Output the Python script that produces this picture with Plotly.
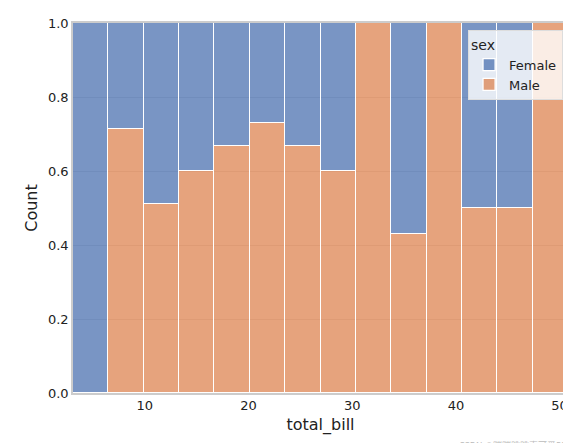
import numpy as np
import plotly.graph_objects as go

# tips total_bill, 14 bins, normalised by sex (multiple="fill")
bill_min = 3.07
bill_max = 50.81
n_bins = 14
male_share = [0.0, 0.714, 0.51, 0.60, 0.667, 0.73, 0.667, 0.60, 1.0, 0.43, 1.0, 0.5, 0.5, 1.0]
female_share = [1 - m for m in male_share]

edges = np.linspace(bill_min, bill_max, n_bins + 1)
centers = (edges[:-1] + edges[1:]) / 2
width = edges[1] - edges[0]

fig = go.Figure()
fig.add_bar(x=centers, y=male_share, width=width, name="Male",
            marker=dict(color="rgba(221,132,82,0.75)", line=dict(color="white", width=1.2)))
fig.add_bar(x=centers, y=female_share, width=width, name="Female",
            marker=dict(color="rgba(76,114,176,0.75)", line=dict(color="white", width=1.2)))

axis_font = dict(family="DejaVu Sans", size=13, color="#222")
fig.update_layout(
    barmode="stack", bargap=0,
    width=571, height=443,
    margin=dict(l=65, r=11, t=15, b=58, autoexpand=False),
    paper_bgcolor="white", plot_bgcolor="white",
    font=axis_font,
    showlegend=True,
    legend=dict(title=dict(text="sex", font=dict(size=14)), traceorder="reversed",
                x=0.99, y=0.98, xanchor="right", yanchor="top",
                bgcolor="rgba(255,255,255,0.8)", bordercolor="#ddd", borderwidth=1,
                font=dict(size=13)),
    xaxis=dict(title=dict(text="total_bill", standoff=6), range=[bill_min, bill_max],
               tickvals=[10, 20, 30, 40, 50], showgrid=False, zeroline=False, automargin=False,
               showline=True, mirror=True, linecolor="#ccc", linewidth=1.5, ticks=""),
    yaxis=dict(title=dict(text="Count", standoff=6), range=[0, 1], dtick=0.2, tickformat=".1f",
               showgrid=True, gridcolor="#ddd", zeroline=False, automargin=False,
               showline=True, mirror=True, linecolor="#ccc", linewidth=1.5, ticks=""),
)
fig.add_annotation(text="CSDN @蹦蹦跳跳真可爱589", xref="paper", yref="paper", x=1.01, y=-0.12,
                   xanchor="right", yanchor="top", showarrow=False,
                   font=dict(size=9, color="#bbb", family="Noto Sans CJK SC"))
fig.write_html("out.html")
